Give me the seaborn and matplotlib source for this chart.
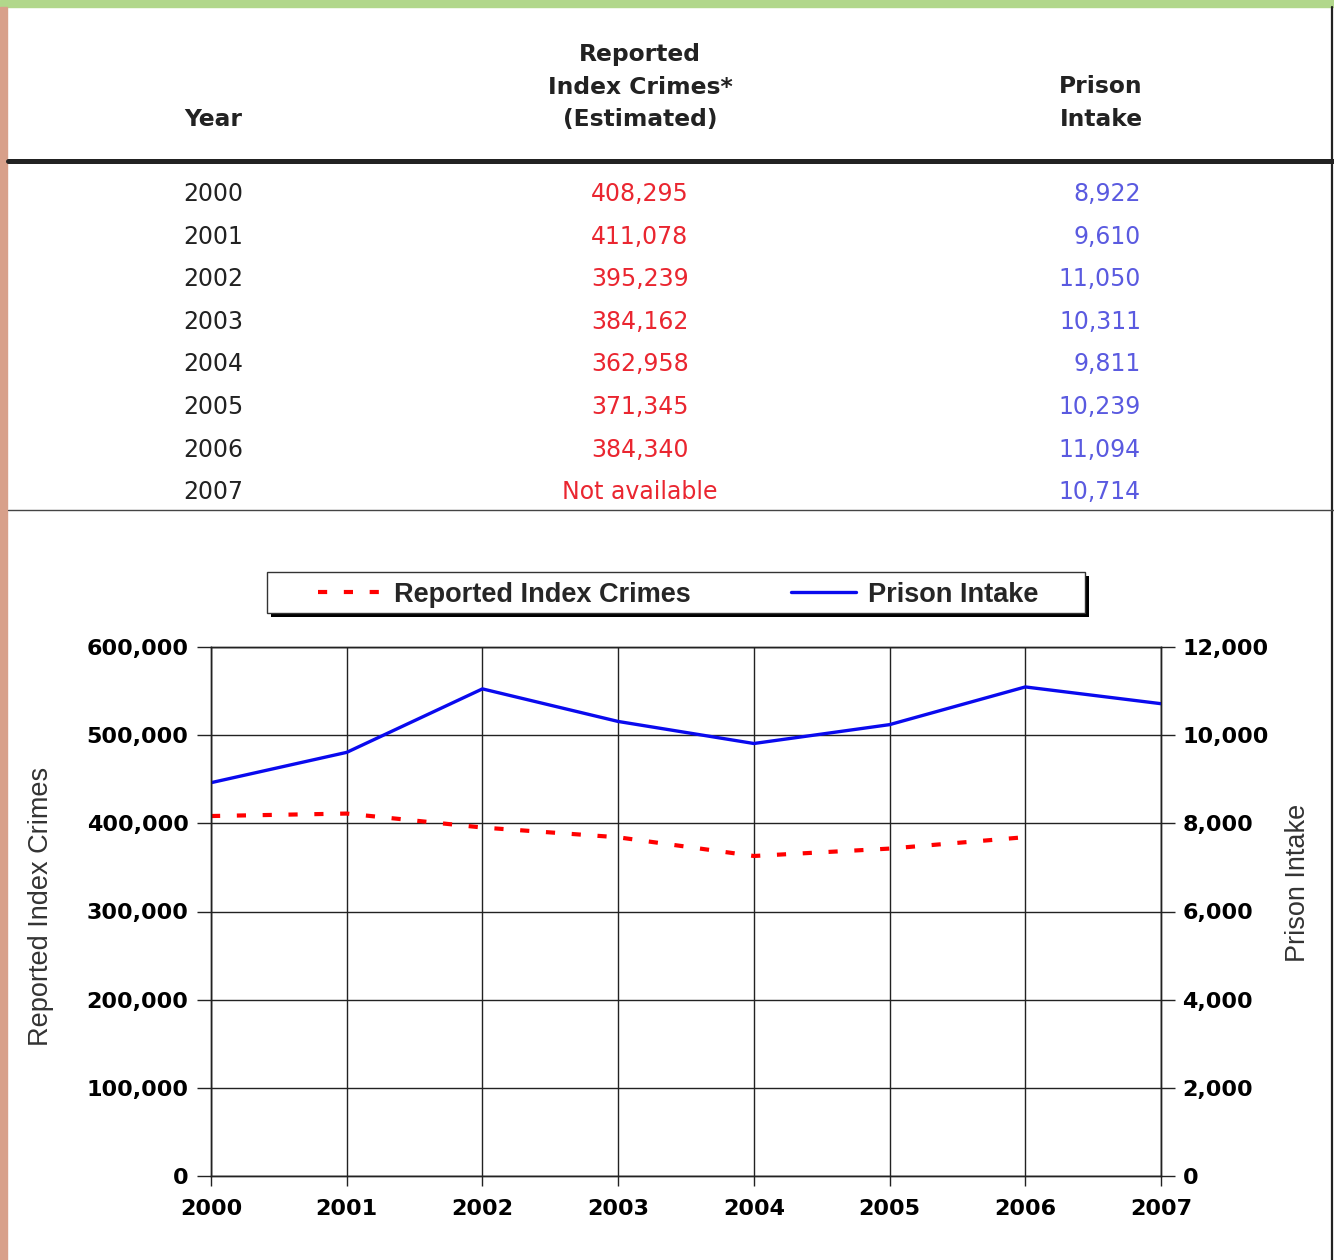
import numpy as np
import pandas as pd
import matplotlib
matplotlib.use("Agg")
import matplotlib.pyplot as plt
import seaborn as sns
from matplotlib.patches import Rectangle
from matplotlib.lines import Line2D

# ---- data ----
years = [2000, 2001, 2002, 2003, 2004, 2005, 2006, 2007]
crimes = [408295, 411078, 395239, 384162, 362958, 371345, 384340, np.nan]
intake = [8922, 9610, 11050, 10311, 9811, 10239, 11094, 10714]
left_ticks = [0, 100000, 200000, 300000, 400000, 500000, 600000]
right_ticks = [0, 2000, 4000, 6000, 8000, 10000, 12000]
col_headers = ["Year", "Reported\nIndex Crimes*\n(Estimated)", "Prison\nIntake"]
series_names = ["Reported Index Crimes", "Prison Intake"]

RED = "#ff0000"
BLUE = "#0a0aee"
TXT_RED = "#ea2630"
TXT_BLUE = "#5a5ae0"
ARIAL = ["Liberation Sans", "DejaVu Sans"]

sns.set_style("white")
plt.rcParams["font.family"] = ["DejaVu Sans"]

W, H = 1334, 1260
fig = plt.figure(figsize=(W / 100, H / 100), dpi=100)


def fx(x):
    return x / W


def fy(y):
    return 1 - y / H


# ---- frame decorations ----
fig.patches.append(Rectangle((0, fy(7)), 1, 7 / H, transform=fig.transFigure,
                             color="#b1d78b", zorder=0))
fig.patches.append(Rectangle((0, 0), 7 / W, fy(7), transform=fig.transFigure,
                             color="#d8a08a", zorder=0))
fig.lines.append(Line2D([fx(1332), fx(1332)], [0, fy(7)], transform=fig.transFigure,
                        color="#222222", lw=1.6))

# ---- table ----
hdr_kw = dict(fontsize=16.8, fontweight="bold", color="#222222",
              ha="center", va="center", linespacing=1.55)
fig.text(fx(213), fy(119), col_headers[0], **hdr_kw)
fig.text(fx(640), fy(87), col_headers[1], **hdr_kw)
fig.text(fx(1101), fy(103), col_headers[2], **hdr_kw)

fig.lines.append(Line2D([fx(8), 1], [fy(161), fy(161)], transform=fig.transFigure,
                        color="#222222", lw=3.6))
fig.lines.append(Line2D([fx(8), 1], [fy(510), fy(510)], transform=fig.transFigure,
                        color="#444444", lw=1.0))

row_y0, row_dy = 194, 42.6
for i, yr in enumerate(years):
    yy = fy(row_y0 + i * row_dy)
    fig.text(fx(213), yy, str(yr), fontsize=17, color="#222222", ha="center", va="center")
    c = crimes[i]
    ctxt = "Not available" if np.isnan(c) else f"{int(c):,}"
    fig.text(fx(640), yy, ctxt, fontsize=17, color=TXT_RED, ha="center", va="center")
    fig.text(fx(1141), yy, f"{intake[i]:,}", fontsize=17, color=TXT_BLUE,
             ha="right", va="center")

# ---- chart ----
ax = fig.add_axes([fx(211), fy(1176), fx(1161) - fx(211), fy(647) - fy(1176)])
ax2 = ax.twinx()

df = pd.DataFrame({"Year": years, "Crimes": crimes, "Intake": intake})

sns.lineplot(data=df, x="Year", y="Crimes", ax=ax, color=RED, lw=3.0,
             linestyle=(0, (2.2, 4.0)), label=series_names[0], legend=False)
sns.lineplot(data=df, x="Year", y="Intake", ax=ax2, color=BLUE, lw=2.4,
             label=series_names[1], legend=False)

ax.set_xlim(2000, 2007)
ax.set_ylim(0, 600000)
ax2.set_ylim(0, 12000)
ax.set_xticks(years)
ax.set_xticklabels([str(y) for y in years])
ax.set_yticks(left_ticks)
ax.set_yticklabels([f"{v:,}" for v in left_ticks])
ax2.set_yticks(right_ticks)
ax2.set_yticklabels([f"{v:,}" for v in right_ticks])

ax.grid(True, color="#222222", lw=1.0)
ax.set_axisbelow(True)
for a in (ax, ax2):
    for s in a.spines.values():
        s.set_color("#222222")
        s.set_linewidth(1.0)
ax.tick_params(axis="y", direction="out", length=10, width=1, color="#222222",
               labelsize=16, pad=6.2, left=True)
ax.tick_params(axis="x", direction="out", length=7, width=1, color="#222222",
               labelsize=16, pad=9.5, bottom=True)
ax2.tick_params(axis="y", direction="out", length=10, width=1, color="#222222",
                labelsize=16, pad=5.5, right=True)
for lab in ax.get_xticklabels() + ax.get_yticklabels() + ax2.get_yticklabels():
    lab.set_fontweight("bold")
    lab.set_color("black")

axw = fx(1161) - fx(211)
axh = fy(647) - fy(1176)
ax.set_xlabel("")
ax.set_ylabel(series_names[0], fontsize=19.5, color="#333333", family=ARIAL)
ax2.set_ylabel(series_names[1], fontsize=19.5, color="#333333", family=ARIAL)
ax.yaxis.set_label_coords((fx(54) - fx(211)) / axw, (fy(906) - fy(1176)) / axh)
ax2.yaxis.set_label_coords((fx(1285) - fx(211)) / axw, (fy(883) - fy(1176)) / axh)

# ---- legend (frame + shadow drawn as figure patches) ----
lx0, lx1, ly0, ly1 = 267, 1085, 572, 613
fig.patches.append(Rectangle((fx(lx0 + 4), fy(ly1 + 4)), fx(lx1) - fx(lx0), fy(ly0) - fy(ly1),
                             transform=fig.transFigure, facecolor="black", edgecolor="none",
                             zorder=1))
fig.patches.append(Rectangle((fx(lx0), fy(ly1)), fx(lx1) - fx(lx0), fy(ly0) - fy(ly1),
                             transform=fig.transFigure, facecolor="white", edgecolor="#333333",
                             lw=1.0, zorder=1.5))
handles = ax.get_lines()[:1] + ax2.get_lines()[:1]
leg = fig.legend(handles, series_names,
                 loc="center", bbox_to_anchor=(fx((lx0 + lx1) / 2 + 2), fy((ly0 + ly1) / 2 + 2)),
                 ncol=2, frameon=False, handlelength=2.4, handletextpad=0.42,
                 columnspacing=3.7, borderpad=0, borderaxespad=0,
                 prop={"family": ARIAL, "weight": "bold", "size": 19.5})
leg.set_zorder(3)

fig.savefig("out.png", dpi=100)
